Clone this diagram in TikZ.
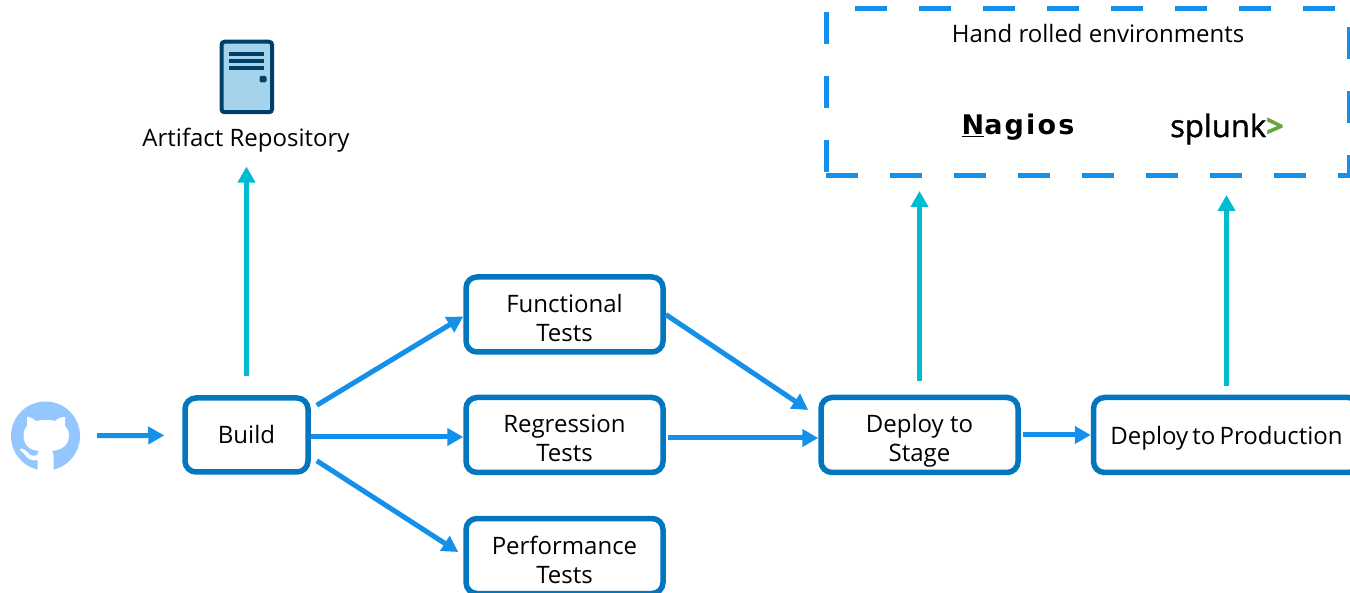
\documentclass[tikz,border=0pt]{standalone}
\usepackage{fontspec}
\usetikzlibrary{positioning}
\usetikzlibrary{arrows.meta}
\setmainfont{Open Sans}
\newfontfamily\nagiosfont[LetterSpace=8]{DejaVu Sans}
\newfontfamily\splunkfont[FakeBold=1.2]{Open Sans}
\definecolor{boxblue}{HTML}{0277BD}
\definecolor{flowblue}{HTML}{1490EA}
\definecolor{upteal}{HTML}{00BCD0}
\definecolor{hubblue}{HTML}{94C6FF}
\definecolor{serverfill}{HTML}{A6D3EC}
\definecolor{serverdark}{HTML}{003F66}
\definecolor{splunkgreen}{HTML}{65A637}
\newcommand{\twolines}[2]{\rule{0pt}{32pt}#1\\#2\rule[-7pt]{0pt}{7pt}}

\tikzset{
  stepbox/.style = {draw = boxblue, line width = 5.5pt, rounded corners = 11pt, align = center,
    minimum width = 197pt, minimum height = 75pt, inner sep = 0pt, fill = white},
  flow/.style = {draw = flowblue, line width = 5pt, -{Triangle[length = 16pt, width = 17pt]}},
  upflow/.style = {draw = upteal, line width = 5pt, -{Triangle[length = 16pt, width = 17pt]}},
  envbox/.style = {draw = flowblue, line width = 5pt, dash pattern = on 32pt off 32pt},
}

\begin{document}
\begin{tikzpicture}[x = 1pt, y = -1pt, font = \fontsize{24}{29}\selectfont]
      \clip (0,0) rectangle (1350,593);

      \node[stepbox, minimum width = 123pt, minimum height = 74pt] (build) at (246.5,435) {\rule[-5pt]{0pt}{28pt}Build};
      \node[stepbox, above right = 40.5pt and 152.5pt of build] (functional) {\twolines{Functional}{Tests}};
      \node[stepbox, right = 152.5pt of build] (regression) {\twolines{Regression}{Tests}};
      \node[stepbox, below right = 41pt and 152.5pt of build] (performance) {\twolines{Performance}{Tests}};
      \node[stepbox, right = 152.5pt of regression] (stage) {\twolines{Deploy to}{Stage}};
      \node[stepbox, right = 70pt of stage, minimum width = 266pt, text width = 266pt] (production) {\rule[-5pt]{0pt}{30pt}\spaceskip = 4.2pt Deploy to Production};

      \node[circle, fill = hubblue, minimum size = 69pt, inner sep = 0pt] (github) at (45.5,436) {};
      \fill[white] (37.5,472) -- (37.5,460) .. controls (33,461) and (29,460) .. (26,456)
        .. controls (24,453) and (22,452) .. (20,450) -- (21,448.5) .. controls (25,449) and (28,452) .. (30,455)
        .. controls (32,456) and (34,456) .. (37.5,455) .. controls (37.5,453) and (38,452) .. (39,451)
        .. controls (30,450) and (23.5,446) .. (23.5,435) .. controls (23.5,431) and (25,428) .. (27,426)
        -- (27,417) .. controls (31,417) and (34,419) .. (36,421) .. controls (42,419.5) and (49,419.5) .. (55,421)
        .. controls (57,419) and (60,417) .. (65,417) -- (65,426) .. controls (67,428) and (69,431) .. (69,435)
        .. controls (69,446) and (61,450) .. (52,451) .. controls (53,452) and (53.5,454) .. (53.5,456)
        -- (53.5,472) -- cycle;

      \node[draw = serverdark, fill = serverfill, line width = 4pt, rounded corners = 3pt,
        minimum width = 50.5pt, minimum height = 70.5pt, inner sep = 0pt] (server) at (246.8,77) {};
      \foreach \liney in {54,61,68} {
        \draw[serverdark, line width = 3.2pt] (229,\liney) -- (264,\liney);
      }
      \fill[serverdark, rounded corners = 1.5pt] (259.5,76) rectangle (266.5,82.5);
      \node (artifact) at (246,140) {Artifact Repository};

      \coordinate (envsw) at (826,176);
      \coordinate (envse) at (1349,176);
      \coordinate (envne) at (1349,9);
      \coordinate (envnw) at (826,9);
      \draw[envbox] (envsw) -- (envse) -- (envne) -- (envnw) -- cycle;

      \node (hand) at (1098,34) {Hand rolled environments};
      \node[font = \nagiosfont\bfseries\fontsize{27}{29}\selectfont] (nagios) at (1018,127) {\underline{N}agios};
      \node[font = \splunkfont\fontsize{31}{31}\selectfont] (splunk) at (1227,129) {splunk\textcolor{splunkgreen}{\textbf{>}}};

      \draw[flow, shorten <= 17pt, shorten >= 18pt] (github) -- (build);
      \draw[flow] ([shift = {(6,10)}]build.north east) -- ([shift = {(0,2)}]functional.west);
      \draw[flow] ([shift = {(0,2)}]build.east) -- ([shift = {(0,2)}]regression.west);
      \draw[flow] ([shift = {(6,-14)}]build.south east) -- ([shift = {(-5,-4)}]performance.west);
      \draw[flow] (functional.east) -- ([shift = {(-10,-25)}]stage.west);
      \draw[flow] ([shift = {(2,3)}]regression.east) -- ([shift = {(0,3)}]stage.west);
      \draw[flow] ([xshift = 2pt]stage.east) -- (production.west);

      \draw[upflow, shorten <= 19pt, shorten >= 11pt] (build.north) -- (build.north |- artifact.south);
      \draw[upflow, shorten <= 14pt, shorten >= 15pt] (stage.north) -- (stage.north |- envsw);
      \draw[upflow, shorten <= 9pt, shorten >= 19pt] (production.north) -- (production.north |- envsw);
\end{tikzpicture}
\end{document}
